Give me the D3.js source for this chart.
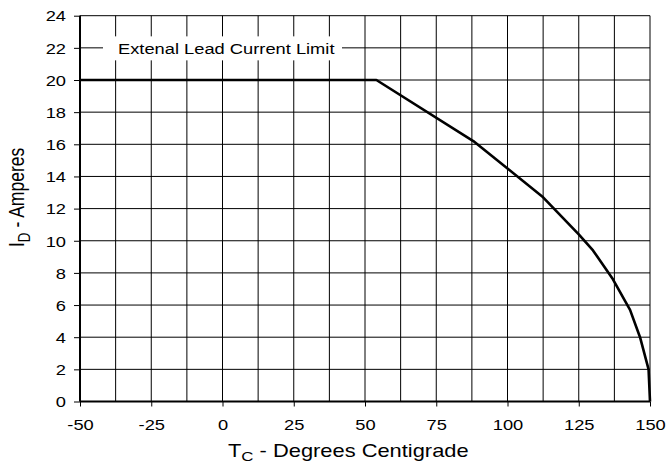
<!DOCTYPE html>
<html>
<head>
<meta charset="utf-8">
<script src="https://cdn.jsdelivr.net/npm/d3@7"></script>
<style>
  html, body { margin: 0; padding: 0; background: #fff; }
  svg { display: block; }
  text { font-family: "Liberation Sans", Arial, sans-serif; fill: #000; }
</style>
</head>
<body>
<svg id="chart" width="670" height="463"></svg>
<script>
// Drain current derating vs. case temperature
const tempC    = [-50, 54, 88, 100, 112.5, 125, 130, 137, 143, 146.5, 149.5, 150];
const currentA = [ 20, 20, 16.2, 14.5, 12.7, 10.4, 9.4, 7.6, 5.7, 4.0, 2.0, 0];

const xTicks = [-50, -25, 0, 25, 50, 75, 100, 125, 150];
const yTicks = [0, 2, 4, 6, 8, 10, 12, 14, 16, 18, 20, 22, 24];
const xGrid  = d3.range(-50, 150.01, 12.5);

const limitLabel = "Extenal Lead Current Limit";
const limitLabelY = 22;

const svg = d3.select("#chart");
const plotL = 80, plotR = 650, plotT = 15.7, plotB = 401.5;
const x = d3.scaleLinear().domain([-50, 150]).range([plotL, plotR]);
const y = d3.scaleLinear().domain([0, 24]).range([plotB, plotT]);

// glyphs are drawn a little wider than tall
const SX = 1.22;
const plain = d => String(d);   // keep ASCII hyphen for negatives

// grid
const grid = svg.append("g").attr("stroke", "#000").attr("stroke-width", 1);
grid.selectAll("line.v").data(xGrid).join("line").attr("class", "v")
  .attr("x1", d => x(d)).attr("x2", d => x(d))
  .attr("y1", plotT).attr("y2", plotB);
grid.selectAll("line.h").data(yTicks).join("line").attr("class", "h")
  .attr("x1", plotL).attr("x2", plotR)
  .attr("y1", d => y(d)).attr("y2", d => y(d));

// x axis
const xAxis = svg.append("g").attr("transform", `translate(0,${plotB})`)
  .call(d3.axisBottom(x).tickValues(xTicks).tickSize(5).tickFormat(plain));
xAxis.select(".domain").attr("stroke-width", 2).attr("d", `M${plotL},0H${plotR}`);
xAxis.selectAll(".tick text")
  .attr("y", 0).attr("dy", 0)
  .attr("font-size", 15)
  .attr("transform", "translate(0,28.5) scale(" + SX + ",1)")
  .attr("font-family", "'Liberation Sans', Arial, sans-serif");

// y axis
const yAxis = svg.append("g").attr("transform", `translate(${plotL},0)`)
  .call(d3.axisLeft(y).tickValues(yTicks).tickSize(6).tickFormat(plain));
yAxis.select(".domain").attr("stroke-width", 2).attr("d", `M0,${plotT}V${plotB}`);
yAxis.selectAll(".tick text")
  .attr("x", 0).attr("dy", "0.35em")
  .attr("font-size", 15)
  .attr("transform", "translate(-14,0) scale(" + SX + ",1)")
  .attr("font-family", "'Liberation Sans', Arial, sans-serif");

// lead current limit label
svg.append("rect")
  .attr("x", 103).attr("y", y(limitLabelY) - 11.5)
  .attr("width", 239).attr("height", 24)
  .attr("fill", "#fff");
svg.append("text")
  .attr("transform", `translate(118,${y(limitLabelY) + 6}) scale(${SX},1)`)
  .attr("font-size", 15)
  .text(limitLabel);

// derating curve
const line = d3.line().x(d => x(d[0])).y(d => y(d[1]));
svg.append("path")
  .datum(tempC.map((t, i) => [t, currentA[i]]))
  .attr("fill", "none")
  .attr("stroke", "#000")
  .attr("stroke-width", 2.6)
  .attr("stroke-linejoin", "round")
  .attr("d", line);

// axis titles
const xt = svg.append("text")
  .attr("transform", `translate(228,456.5) scale(1.25,1)`)
  .attr("font-size", 17.5);
xt.append("tspan").text("T");
xt.append("tspan").attr("font-size", 13.5).attr("dy", 4.5).text("C");
xt.append("tspan").attr("dy", -4.5).text(" - Degrees Centigrade");

const yt = svg.append("text")
  .attr("transform", `translate(24,247) scale(1.25,1) rotate(-90)`)
  .attr("font-size", 17.5);
yt.append("tspan").text("I");
yt.append("tspan").attr("font-size", 13.5).attr("dy", 4.5).text("D");
yt.append("tspan").attr("dy", -4.5).text(" - Amperes");
</script>
</body>
</html>
